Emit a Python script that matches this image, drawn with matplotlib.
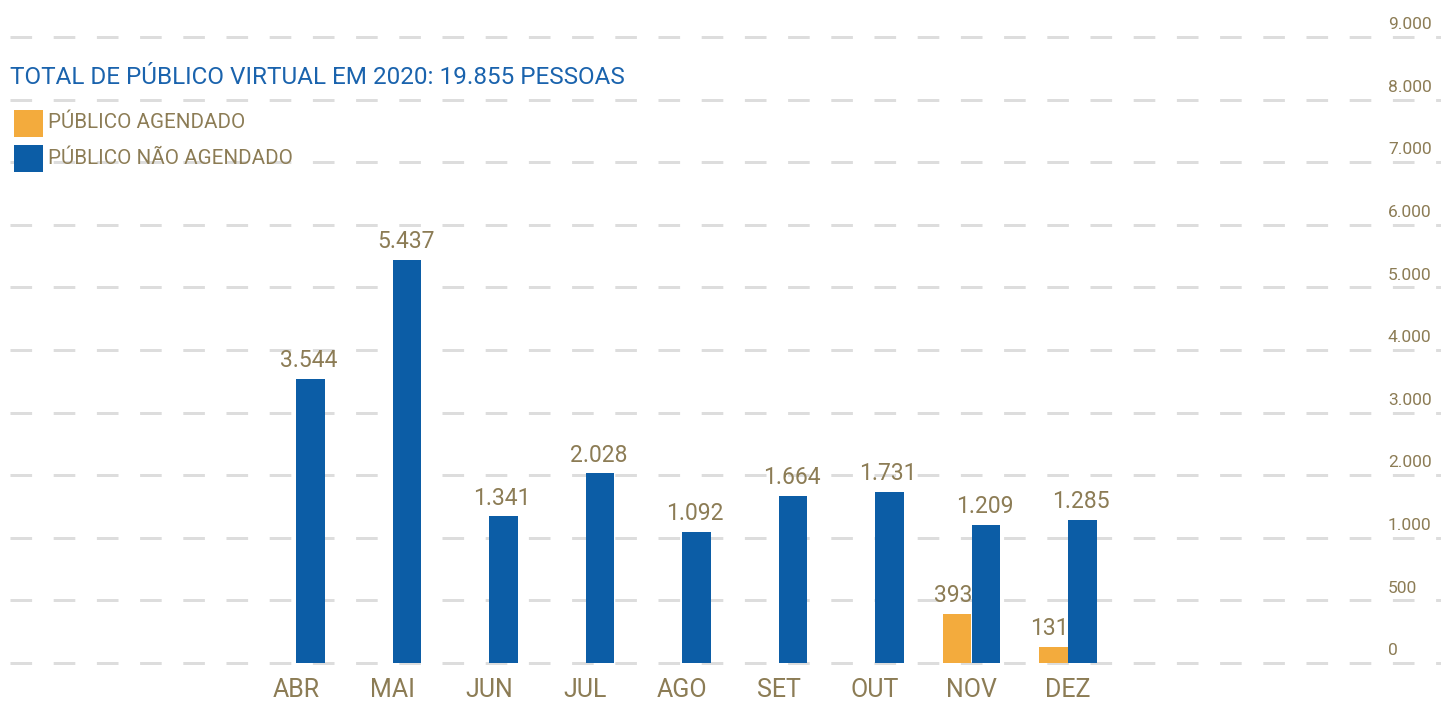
"""Público virtual 2020 — barras agrupadas por mês"""

import numpy as np
import matplotlib
matplotlib.use("Agg")
import matplotlib.pyplot as plt
from matplotlib.patches import Rectangle

# Dados
meses = ["ABR", "MAI", "JUN", "JUL", "AGO", "SET", "OUT", "NOV", "DEZ"]
agendado = [0, 0, 0, 0, 0, 0, 0, 393, 131]
nao_agendado = [3544, 5437, 1341, 2028, 1092, 1664, 1731, 1209, 1285]
y_ticks = [0, 500, 1000, 2000, 3000, 4000, 5000, 6000, 7000, 8000, 9000]
titulo = "TOTAL DE PÚBLICO VIRTUAL EM 2020: 19.855 PESSOAS"
legendas = ["PÚBLICO AGENDADO", "PÚBLICO NÃO AGENDADO"]

LARANJA = "#F3AB3D"
AZUL = "#0C5DA6"
TEXTO = "#8C7C55"
AZUL_TIT = "#1A63AD"
GRADE = "#DDDDDD"

FONTE = ["Roboto", "DejaVu Sans"]


def fmt(v):
    return f"{v:,}".replace(",", ".")


# Escala quebrada: 0-1000 em passos de 500, depois passos de 1000
def forward(v):
    v = np.asarray(v, dtype=float)
    return np.where(v <= 1000, v / 500.0, v / 1000.0 + 1)


def inverse(t):
    t = np.asarray(t, dtype=float)
    return np.where(t <= 2, t * 500.0, (t - 1) * 1000.0)


fig = plt.figure(figsize=(14.41, 7.02), dpi=100)
ax = fig.add_axes([0, 0, 1, 1])
ax.set_yscale("function", functions=(forward, inverse))

px_unit = 96.5
x0 = -296 / px_unit
x1 = (1441 - 296) / px_unit
ax.set_xlim(x0, x1)
ax.set_ylim(inverse(-39 / 62.6), inverse(10 + 37 / 62.6))
ax.axis("off")

# Grade tracejada
g_left = (10 - 296) / px_unit
for v in y_ticks:
    ax.plot([g_left, x1], [v, v], color=GRADE, linewidth=2.16,
            dashes=(7.2, 7.2), zorder=0, dash_capstyle="butt")
    ax.annotate(fmt(v), xy=((1388 - 296) / px_unit, v), xytext=(0, 3.5),
                textcoords="offset points", fontsize=12.5, color=TEXTO,
                family=FONTE, ha="left", va="bottom")

x = np.arange(len(meses))
w = 0.30
ax.bar(x - w / 2, agendado, width=w, color=LARANJA, linewidth=0, zorder=2)
ax.bar(x + w / 2, nao_agendado, width=w, color=AZUL, linewidth=0, zorder=2)

for i in range(len(meses)):
    if agendado[i]:
        ax.annotate(fmt(agendado[i]), xy=(x[i] - w / 2, agendado[i]),
                    xytext=(-3, 5), textcoords="offset points",
                    ha="center", va="bottom", fontsize=16.5, color=TEXTO,
                    family=FONTE, zorder=4)
    ax.annotate(fmt(nao_agendado[i]), xy=(x[i] + w / 2, nao_agendado[i]),
                xytext=(-1, 5), textcoords="offset points",
                ha="center", va="bottom", fontsize=16.5, color=TEXTO,
                family=FONTE, zorder=4)
    ax.text(x[i], inverse(-27 / 62.6), meses[i], ha="center", va="center",
            fontsize=18, color=TEXTO, family=FONTE)

# Título e legenda
fig.text(10 / 1441, 1 - 77 / 702, titulo, fontsize=17.5, color=AZUL_TIT,
         family=FONTE, ha="left", va="center")
for k, (lab, cor) in enumerate(zip(legendas, [LARANJA, AZUL])):
    yc = 123 + k * 35
    fig.patches.append(Rectangle((14 / 1441, 1 - (yc + 14) / 702), 29 / 1441,
                                 27 / 702, transform=fig.transFigure,
                                 facecolor=cor, edgecolor="none"))
    fig.text(48 / 1441, 1 - yc / 702, lab, fontsize=14.8, color=TEXTO,
             family=FONTE, ha="left", va="center")

fig.savefig("out.png", dpi=100)
plt.close(fig)
